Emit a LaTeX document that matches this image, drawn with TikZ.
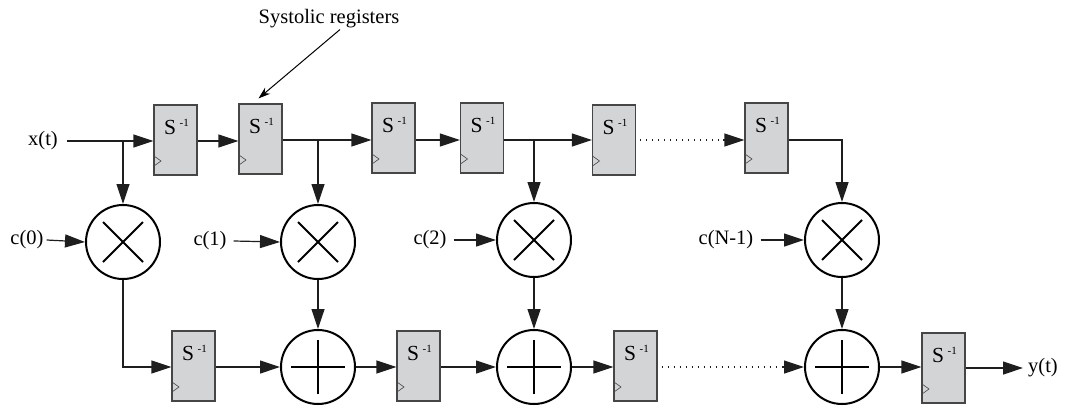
\documentclass[tikz,border=0pt]{standalone}
\usepackage{fontspec}
\setmainfont{Liberation Serif}
\usetikzlibrary{arrows.meta}
\definecolor{regfill}{RGB}{211,212,214}
\definecolor{regdraw}{RGB}{70,70,70}
\definecolor{wire}{RGB}{30,30,30}
\tikzset{
  lbl/.style={font=\fontsize{20.5}{24}\selectfont, inner sep=1pt},
  reg/.style={draw=regdraw, line width=1.2pt, fill=regfill, minimum width=43pt, minimum height=70pt, inner sep=0pt,
    label={[font=\fontsize{21.5}{23}\selectfont, inner sep=0pt, yshift=13pt, xshift=1pt]center:{S\,\raisebox{7.5pt}{\fontsize{11}{11}\selectfont -1}}},
    path picture={\draw[regdraw, line width=0.6pt]
      ([shift={(0pt,19pt)}]path picture bounding box.south west) --
      ([shift={(7pt,14pt)}]path picture bounding box.south west) --
      ([shift={(0pt,9pt)}]path picture bounding box.south west);}},
  mult/.style={circle, draw=black, line width=2pt, minimum size=74pt, inner sep=0pt,
    path picture={\draw[line width=2pt]
      ([shift={(-20pt,-20pt)}]path picture bounding box.center) -- ([shift={(20pt,20pt)}]path picture bounding box.center)
      ([shift={(-20pt,20pt)}]path picture bounding box.center) -- ([shift={(20pt,-20pt)}]path picture bounding box.center);}},
  adder/.style={circle, draw=black, line width=2pt, minimum size=74pt, inner sep=0pt,
    path picture={\draw[line width=2pt]
      ([shift={(-27pt,0pt)}]path picture bounding box.center) -- ([shift={(27pt,0pt)}]path picture bounding box.center)
      ([shift={(0pt,-27pt)}]path picture bounding box.center) -- ([shift={(0pt,27pt)}]path picture bounding box.center);}},
  wirel/.style={draw=wire, line width=1.2pt},
  arr/.style={wirel, -{Triangle[length=20pt,width=13pt]}},
  dots/.style={draw=wire, line width=1.2pt, dash pattern=on 1.3pt off 4.7pt},
  thinarr/.style={draw=black, line width=1pt, -{Stealth[length=12pt,width=8pt]}}
}
\begin{document}
\begin{tikzpicture}[x=1pt,y=-1pt]
\useasboundingbox (0,0) rectangle (1069,405);

% top registers
\node[reg] (R1) at (175.5,140) {};
\node[reg] (R2) at (260.5,139) {};
\node[reg] (R3) at (393.5,138) {};
\node[reg] (R4) at (482,138) {};
\node[reg] (R5) at (614,140) {};
\node[reg] (R6) at (766.5,138) {};

% multipliers
\node[mult] (M1) at (123,242) {};
\node[mult] (M2) at (318,242) {};
\node[mult] (M3) at (534,240) {};
\node[mult] (M4) at (842,240) {};

% adders
\node[adder] (A1) at (318,367) {};
\node[adder] (A2) at (534,367) {};
\node[adder] (A3) at (842,367) {};

% bottom registers
\node[reg] (B1) at (193.5,366) {};
\node[reg] (B2) at (418.5,366) {};
\node[reg] (B3) at (635.5,366) {};
\node[reg] (B4) at (943.5,368) {};

% labels
\node[lbl] (xt) at (43,141) {x(t)};
\node[lbl] (c0) at (27,240) {c(0)};
\node[lbl] (c1) at (210,241) {c(1)};
\node[lbl] (c2) at (430,240) {c(2)};
\node[lbl] (cN) at (726,240) {c(N-1)};
\node[lbl] (yt) at (1043,368) {y(t)};
\node[lbl] (sys) at (329,19) {Systolic registers};

% coordinates
\coordinate (xin) at (67,141);
\coordinate (br1) at (123,141);
\coordinate (br2) at (318,140);
\coordinate (br3) at (534,140);
\coordinate (d1) at (723,140);
\coordinate (d2) at (783,367);
\coordinate (yout) at (1023,368);

% top row wires
\draw[arr] (xin) -- (R1.west |- xin);
\draw[arr] (br1) -- (M1.north);
\draw[arr] (R1.east |- 0,141) -- (R2.west |- 0,141);
\draw[arr] (R2.east |- br2) -- (R3.west |- br2);
\draw[arr] (br2) -- (M2.north);
\draw[arr] (R3.east |- br3) -- (R4.west |- br3);
\draw[arr] (R4.east |- br3) -- (R5.west |- br3);
\draw[arr] (br3) -- (M3.north);
\draw[dots] ([xshift=4pt]R5.east |- d1) -- (d1);
\draw[arr] (d1) -- (R6.west |- d1);
\draw[arr] (R6.east |- d1) -| (M4.north);

% coefficient inputs
\draw[arr] ([xshift=2pt]c0.east) -- (M1.west);
\draw[arr] ([xshift=6pt]c1.east) -- (M2.west);
\draw[arr] ([xshift=6pt]c2.east) -- (M3.west);
\draw[arr] ([xshift=6pt]cN.east) -- (M4.west);

% multipliers to adders
\draw[arr] (M1.south) |- (B1.west |- A1);
\draw[arr] (M2.south) -- (A1.north);
\draw[arr] (M3.south) -- (A2.north);
\draw[arr] (M4.south) -- (A3.north);

% bottom row wires
\draw[arr] (B1.east |- A1) -- (A1.west);
\draw[arr] (A1.east) -- (B2.west |- A1);
\draw[arr] (B2.east |- A2) -- (A2.west);
\draw[arr] (A2.east) -- (B3.west |- A2);
\draw[dots] ([xshift=4pt]B3.east |- d2) -- (d2);
\draw[arr] (d2) -- (A3.west);
\draw[arr] (A3.east) -- (B4.west |- A3);
\draw[arr] (B4.east |- yout) -- (yout);

% annotation
\draw[thinarr] ([xshift=11pt]sys.south) -- ([shift={(-2pt,5pt)}]R2.north);
\end{tikzpicture}
\end{document}
